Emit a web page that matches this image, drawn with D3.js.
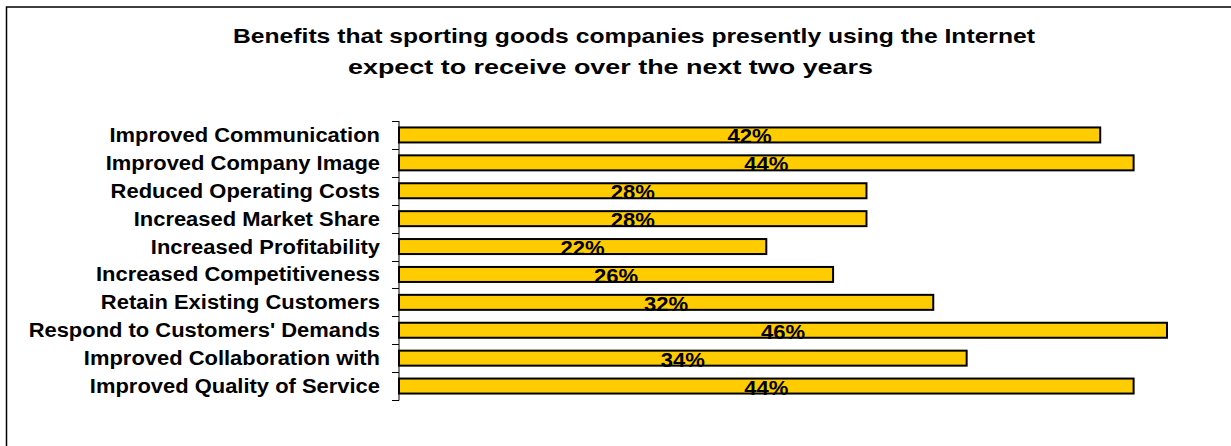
<!DOCTYPE html>
<html>
<head>
<meta charset="utf-8">
<script src="https://cdn.jsdelivr.net/npm/d3@7/dist/d3.min.js"></script>
<style>
  html, body { margin: 0; padding: 0; background: #fff; }
  svg { display: block; font-family: "Liberation Sans", Arial, sans-serif; }
</style>
</head>
<body>
<svg id="chart" width="1231" height="446"></svg>
<script>
// Survey results: share of respondents expecting each benefit (%)
const categories = [
  "Improved Communication",
  "Improved Company Image",
  "Reduced Operating Costs",
  "Increased Market Share",
  "Increased Profitability",
  "Increased Competitiveness",
  "Retain Existing Customers",
  "Respond to Customers' Demands",
  "Improved Collaboration with",
  "Improved Quality of Service"
];
const values = [42, 44, 28, 28, 22, 26, 32, 46, 34, 44];
const titleLines = [
  "Benefits that sporting goods companies presently using the Internet",
  "expect to receive over the next two years"
];

const svg = d3.select("#chart");

// outer frame
svg.append("rect")
  .attr("x", 6.5).attr("y", 7)
  .attr("width", 1240).attr("height", 460)
  .attr("fill", "none").attr("stroke", "#000").attr("stroke-width", 1.5);

// title: two lines, each set to its own span
const titleSpans = [[233, 1035], [348, 873]];
svg.append("g").selectAll("text").data(titleLines).join("text")
  .attr("x", (d, i) => titleSpans[i][0])
  .attr("y", (d, i) => 43 + i * 31)
  .attr("textLength", (d, i) => titleSpans[i][1] - titleSpans[i][0])
  .attr("lengthAdjust", "spacingAndGlyphs")
  .attr("font-weight", "bold")
  .attr("font-size", 21)
  .attr("fill", "#000")
  .text(d => d);

const x = d3.scaleLinear().domain([0, 46]).range([399, 1167]);
const y = d3.scaleBand().domain(categories).range([121, 400]).padding(0);
const barH = 15;

// category axis with ticks between categories
const axisG = svg.append("g");
axisG.append("line")
  .attr("x1", 399).attr("x2", 399)
  .attr("y1", 121).attr("y2", 400.5)
  .attr("stroke", "#000").attr("stroke-width", 1);
const boundaries = d3.range(categories.length + 1).map(i => 121 + i * y.step());
axisG.selectAll("line.tick").data(boundaries).join("line")
  .attr("class", "tick")
  .attr("x1", 392).attr("x2", 399)
  .attr("y1", d => Math.round(d) + 0.5).attr("y2", d => Math.round(d) + 0.5)
  .attr("stroke", "#000").attr("stroke-width", 1);

axisG.selectAll("text").data(categories).join("text")
  .attr("transform", d => `translate(380,${y(d) + y.bandwidth() / 2 + 7}) scale(1.045,1)`)
  .attr("text-anchor", "end")
  .attr("font-weight", "bold")
  .attr("font-size", 21)
  .attr("fill", "#000")
  .text(d => d);

// bars
const data = categories.map((c, i) => ({ c, v: values[i] }));
const bars = svg.append("g");
bars.selectAll("rect").data(data).join("rect")
  .attr("x", x(0))
  .attr("y", d => y(d.c) + (y.bandwidth() - barH) / 2)
  .attr("width", d => x(d.v) - x(0))
  .attr("height", barH)
  .attr("fill", "#FFCC00")
  .attr("stroke", "#000")
  .attr("stroke-width", 2);

// value labels, centred on each bar
svg.append("g").selectAll("text").data(data).join("text")
  .attr("transform", d => `translate(${(x(0) + x(d.v)) / 2},${y(d.c) + (y.bandwidth() - barH) / 2 + barH + 1}) scale(1.05,1)`)
  .attr("text-anchor", "middle")
  .attr("font-weight", "bold")
  .attr("font-size", 21)
  .attr("fill", "#000")
  .text(d => d.v + "%");
</script>
</body>
</html>
